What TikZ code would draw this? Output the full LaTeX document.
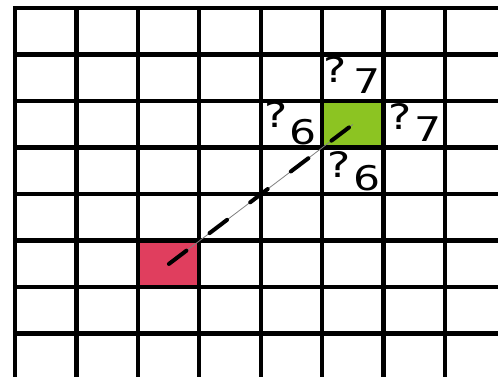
\documentclass[tikz,border=0pt]{standalone}
\usepackage{fontspec}
\newfontfamily\lblfont{DejaVu Sans}
\definecolor{startred}{RGB}{224,62,94}
\definecolor{goalgreen}{RGB}{140,196,34}
\begin{document}
\begin{tikzpicture}[x=1pt,y=-1pt,
  gridline/.style={line width=4.2pt,black},
  cellbox/.style={draw=none,minimum width=61.4pt,minimum height=46.5pt,inner sep=0pt},
  qmark/.style={anchor=base,inner sep=0pt,font=\lblfont\fontsize{35}{35}\selectfont},
  num/.style={anchor=base,inner sep=0pt,font=\lblfont\fontsize{34}{34}\selectfont},
  thinpath/.style={line width=0.8pt,gray},
  dashpath/.style={line width=4pt,black,line cap=round,dash pattern=on 22pt off 29pt}]
\useasboundingbox (0,0) rectangle (498,377);
\fill[white] (0,0) rectangle (498,377);
% coloured cells
\node[cellbox,fill=startred,anchor=north west] (start) at (138,240.5) {};
\node[cellbox,fill=goalgreen,anchor=north west] (goal) at (322,101) {};
% grid
\foreach \i in {0,...,7} {
  \draw[gridline] ({15+61.4*\i},8) -- ({15+61.4*\i},377);
  \draw[gridline] (12.9,{8+46.5*\i}) -- (498,{8+46.5*\i});
}
% connector
\draw[thinpath] (start.center) -- (goal.center);
\draw[dashpath] (start.center) -- (goal.center);
% labels
\node[qmark] (qt) at (335,83) {\scalebox{1.25}[1]{?}};
\node[num] (nt) at (367,94) {\scalebox{1.25}[1]{7}};
\node[qmark] (ql) at (276,128) {\scalebox{1.25}[1]{?}};
\node[num] (nl) at (303,145) {\scalebox{1.25}[1]{6}};
\node[qmark] (qr) at (400,130) {\scalebox{1.25}[1]{?}};
\node[num] (nr) at (428,142) {\scalebox{1.25}[1]{7}};
\node[qmark] (qb) at (339,178) {\scalebox{1.25}[1]{?}};
\node[num] (nb) at (367,190) {\scalebox{1.25}[1]{6}};
\end{tikzpicture}
\end{document}
